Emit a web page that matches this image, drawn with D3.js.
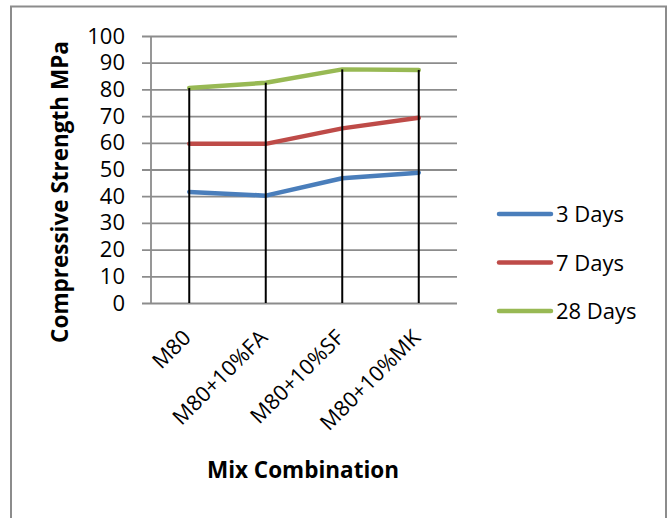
<!DOCTYPE html>
<html>
<head>
<meta charset="utf-8">
<script src="https://cdn.jsdelivr.net/npm/d3@7"></script>
<style>
body{margin:0;background:#fff;}
svg text{font-family:"Open Sans",Lato,sans-serif;fill:#000;}
</style>
</head>
<body>
<svg id="canvas" width="668" height="518"></svg>
<script>
// data
let mixes=['M80','M80+10%FA','M80+10%SF','M80+10%MK'];
let days3=[41.6,40.2,46.7,48.8];
let days7=[59.6,59.6,65.4,69.4];
let days28=[80.5,82.5,87.5,87.3];
let seriesNames=['3 Days','7 Days','28 Days'];
let seriesColors=['#4a7ebb','#be4b48','#98b954'];
let yTicks=[0,10,20,30,40,50,60,70,80,90,100];

let series=[days3,days7,days28];

let canvas=d3.select('#canvas');

// outer frame
canvas.append('rect')
    .attr('x',11).attr('y',6.5)
    .attr('width',655).attr('height',520)
    .attr('fill','#fff')
    .attr('stroke','#8c8c8c')
    .attr('stroke-width',2);

let pLeft=151,pRight=457,pTop=36,pBottom=303;

let x=d3.scalePoint().domain(mixes).range([pLeft,pRight]).padding(0.5);
let y=d3.scaleLinear().domain([0,100]).range([pBottom,pTop]);

// gridlines + y labels
let yAxis=d3.axisLeft(y).tickValues(yTicks).tickSize(-(pRight-pLeft)).tickSizeOuter(0).tickPadding(26);
let gy=canvas.append('g').attr('transform','translate('+pLeft+',0)').call(yAxis);
gy.select('.domain').remove();
gy.selectAll('.tick line')
    .attr('x1',-9)
    .attr('stroke','#8c8c8c')
    .attr('stroke-width',1.8);
gy.selectAll('.tick text')
    .style('font-size','22px');

// y axis line
canvas.append('line')
    .attr('x1',pLeft).attr('x2',pLeft)
    .attr('y1',pTop).attr('y2',pBottom)
    .attr('stroke','#8c8c8c').attr('stroke-width',1.8);

// series lines
let line=d3.line()
    .x((d,i)=>x(mixes[i]))
    .y(d=>y(d));

canvas.selectAll('path.series')
    .data(series)
    .enter()
    .append('path')
    .attr('class','series')
    .attr('d',line)
    .attr('fill','none')
    .attr('stroke',(d,i)=>seriesColors[i])
    .attr('stroke-width',4.5)
    .attr('stroke-linejoin','round')
    .attr('stroke-linecap','round');

// drop lines from top value down to axis
canvas.selectAll('line.drop')
    .data(mixes)
    .enter()
    .append('line')
    .attr('class','drop')
    .attr('x1',d=>x(d)).attr('x2',d=>x(d))
    .attr('y1',(d,i)=>y(d3.max(series,s=>s[i])))
    .attr('y2',y(0))
    .attr('stroke','#000')
    .attr('stroke-width',2);

// x labels rotated
canvas.selectAll('text.xlab')
    .data(mixes)
    .enter()
    .append('text')
    .attr('class','xlab')
    .attr('transform',d=>'translate('+(x(d)+3)+','+(pBottom+36)+') rotate(-45)')
    .attr('text-anchor','end')
    .style('font-size','21.5px')
    .text(d=>d);

// axis titles
canvas.append('text')
    .attr('transform','translate(68,192) rotate(-90)')
    .attr('text-anchor','middle')
    .style('font-size','22.5px')
    .style('font-weight','bold')
    .text('Compressive Strength MPa');

canvas.append('text')
    .attr('x',303).attr('y',478)
    .attr('text-anchor','middle')
    .style('font-size','22.5px')
    .style('font-weight','bold')
    .text('Mix Combination');

// legend
let legend=canvas.selectAll('g.legend')
    .data(seriesNames)
    .enter()
    .append('g')
    .attr('class','legend')
    .attr('transform',(d,i)=>'translate(0,'+(214+i*48.5)+')');
legend.append('line')
    .attr('x1',499).attr('x2',551)
    .attr('y1',0).attr('y2',0)
    .attr('stroke',(d,i)=>seriesColors[i])
    .attr('stroke-width',4.5)
    .attr('stroke-linecap','round');
legend.append('text')
    .attr('x',556).attr('y',8)
    .style('font-size','22px')
    .text(d=>d);
</script>
</body>
</html>
